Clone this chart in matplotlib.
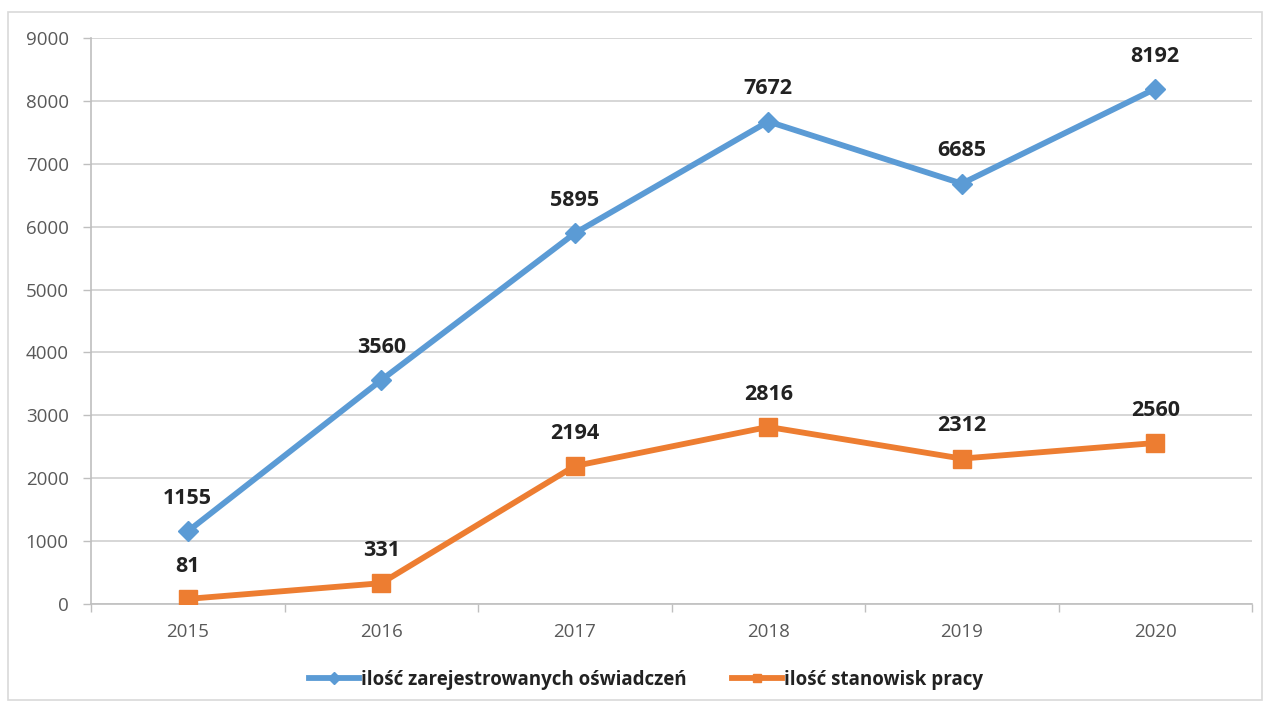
import matplotlib
matplotlib.use("Agg")
import matplotlib.pyplot as plt
from matplotlib.patches import Rectangle
import numpy as np

years = ["2015", "2016", "2017", "2018", "2019", "2020"]
oswiadczenia = [1155, 3560, 5895, 7672, 6685, 8192]
stanowiska = [81, 331, 2194, 2816, 2312, 2560]
yticks = [0, 1000, 2000, 3000, 4000, 5000, 6000, 7000, 8000, 9000]
label_a = "ilość zarejestrowanych oświadczeń"
label_b = "ilość stanowisk pracy"

BLUE = "#5B9BD5"
ORANGE = "#ED7D31"
GRID = "#D0D0D0"
TXT = "#595959"

plt.rcParams['font.family'] = ['Open Sans', 'DejaVu Sans']

fig = plt.figure(figsize=(12.66, 7.06), dpi=100)
fig.patch.set_facecolor("white")
fig.add_artist(Rectangle((8/1266, 6/706), 1254/1266, 688/706, transform=fig.transFigure,
                         fill=False, edgecolor="#D9D9D9", linewidth=1.2))

ax = fig.add_axes([91/1266, 1 - 604/706, (1252-91)/1266, (604-38)/706])
x = np.arange(len(years))

ax.plot(x, oswiadczenia, color=BLUE, lw=4.2, marker="D", markersize=10,
        markerfacecolor=BLUE, markeredgecolor=BLUE, label=label_a, zorder=3)
ax.plot(x, stanowiska, color=ORANGE, lw=4.2, marker="s", markersize=13,
        markerfacecolor=ORANGE, markeredgecolor=ORANGE, label=label_b, zorder=3)

for xi, v in zip(x, oswiadczenia):
    ax.annotate(str(v), (xi, v), xytext=(0, 16), textcoords="offset points",
                ha="center", va="bottom", fontsize=15.5, fontweight="bold", color="#222222")
for xi, v in zip(x, stanowiska):
    ax.annotate(str(v), (xi, v), xytext=(0, 16), textcoords="offset points",
                ha="center", va="bottom", fontsize=15.5, fontweight="bold", color="#222222")

ax.set_xlim(-0.5, len(years) - 0.5)
ax.set_ylim(0, 9000)
ax.set_yticks(yticks)
ax.set_yticklabels([str(t) for t in yticks], fontsize=13.5, color=TXT)
ax.set_xticks(x)
ax.set_xticklabels(years, fontsize=13.5, color=TXT)
ax.tick_params(axis="x", length=0, pad=14)
ax.set_xticks(np.arange(-0.5, len(years)), minor=True)
ax.tick_params(axis="x", which="minor", length=6, color="#BFBFBF", width=1)
ax.tick_params(axis="y", length=6, color="#BFBFBF", width=1, pad=10)
ax.grid(axis="y", color=GRID, lw=1.2)
ax.set_axisbelow(True)
for s in ["top", "right"]:
    ax.spines[s].set_visible(False)
for s in ["left", "bottom"]:
    ax.spines[s].set_color("#BFBFBF")
    ax.spines[s].set_linewidth(1.2)

leg = fig.legend(loc="center", bbox_to_anchor=(646/1266, 1 - 680/706), ncol=2, frameon=False,
                 prop={"size": 13.5, "weight": "bold"}, handlelength=2.7, columnspacing=2.4,
                 handletextpad=0.1)
for t in leg.get_texts():
    t.set_color("#222222")
for h in leg.legend_handles:
    h.set_markersize(6)

fig.savefig("out.png", dpi=100, facecolor="white")
